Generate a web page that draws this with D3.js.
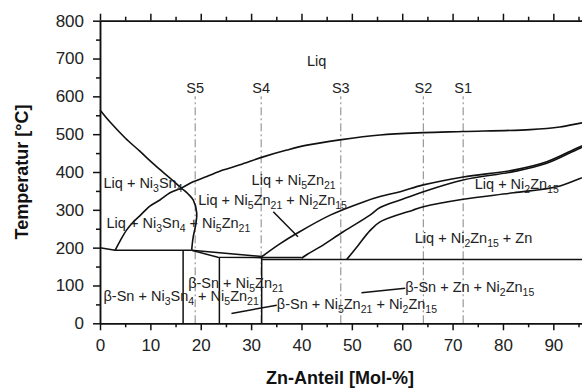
<!DOCTYPE html>
<html>
<head>
<meta charset="utf-8">
<script src="https://cdn.jsdelivr.net/npm/d3@7"></script>
<style>
body { margin: 0; background: #fff; }
svg { display: block; font-family: "Liberation Sans", Arial, sans-serif; }
</style>
</head>
<body>
<script>
// size of the picture and plot box
const width = 582, height = 391;
const plot = {left: 100, right: 603.7, top: 20.7, bottom: 323.3};

// tick values (100 lies outside the cropped picture)
const xMajor = d3.range(0, 100, 10);
const xMinor = d3.range(5, 100, 10);
const yMajor = d3.range(0, 801, 100);
const yMinor = d3.range(50, 800, 100);

// vertical sections
const sNames = ["S5", "S4", "S3", "S2", "S1"];
const sZn = [18.9, 32.0, 47.8, 64.2, 72.1];
const sTop = 600;

// phase boundaries, [Zn mol-%, T °C]
const liqSn = [[0,564],[2,532],[5,490],[7.9,455],[10.9,418],[13.9,384],[16.2,357],[17.5,342],[18.5,326],[19.2,292],[19,260],[18.5,228],[18.2,194]];
const liqMain = [[3,193],[4,218],[5.3,247],[6.6,268],[7.9,284],[9.9,310],[11.9,326],[13.9,345],[16.2,358],[18.5,374],[21.2,388],[24.4,405],[27.8,419],[32.4,440],[37.1,458],[41.1,471],[47.6,485],[55.6,498],[64.2,504],[72.1,507],[85.4,512],[91.3,519],[95.7,530],[100,538]];
const curveA = [[32.1,176],[35.7,210],[39.1,238],[45.7,286],[52.3,321],[55.6,335],[59.6,348],[64.2,366],[72.1,387],[82.1,405],[88.7,427],[95.3,467],[100,492]];
const curveB = [[40,172],[41.1,182],[43.7,202],[48.3,242],[53.6,286],[55.6,306],[59.6,326],[64.2,348],[72.1,379],[82.1,401],[88.7,423],[95.3,463],[100,487]];
const curveC = [[49,169],[51.2,205],[53.6,245],[55.6,268],[62.1,299],[64.2,308],[72.1,328],[82.1,345],[90.7,361],[95.3,383],[100,405]];

// straight boundaries
const eutSn = [[0,200],[3,193],[18.2,193]];
const wedgeUp = [[18.2,193],[32.1,176.5]];
const wedgeLow = [[18.2,193],[23.4,174.5],[32.1,173.5]];
const base174 = [[32.1,174],[40,174]];
const line169 = [[32.1,169],[100,169]];
const vert1 = [[16.5,193],[16.5,0]];
const vert2 = [[23.7,174.5],[23.7,0]];
const vert3 = [[32.1,176.5],[32.1,0]];

// leader lines
const leaders = [
    [[34.4,295],[39.3,229]],
    [[26.1,26],[35.1,48]],
    [[51.9,81],[60.6,92.5]]
];

// region labels ("_n" = subscript) and their anchors
const labelText = [
    "Liq",
    "Liq + Ni_3Sn_4",
    "Liq + Ni_3Sn_4 + Ni_5Zn_21",
    "Liq + Ni_5Zn_21",
    "Liq + Ni_5Zn_21 + Ni_2Zn_15",
    "Liq + Ni_2Zn_15",
    "Liq + Ni_2Zn_15 + Zn",
    "β-Sn + Ni_5Zn_21",
    "β-Sn + Ni_3Sn_4 + Ni_5Zn_21",
    "β-Sn + Ni_5Zn_21 + Ni_2Zn_15",
    "β-Sn + Zn + Ni_2Zn_15"
];
const labelZn = [41.1, 0.7, 1.3, 30.1, 19.5, 74.4, 62.5, 17.5, 0.7, 35.1, 60.6];
const labelT = [680, 358, 251, 366, 313, 355, 211, 93, 59, 38, 83];

const x = d3.scaleLinear().domain([0, 100]).range([plot.left, plot.right]);
const y = d3.scaleLinear().domain([0, 800]).range([plot.bottom, plot.top]);

const svg = d3.select("body").append("svg")
    .attr("width", width)
    .attr("height", height);

const line = d3.line().x(d => x(d[0])).y(d => y(d[1]));
const smooth = d3.line().x(d => x(d[0])).y(d => y(d[1])).curve(d3.curveCatmullRom.alpha(0.5));

// section lines
svg.append("g").selectAll("line")
    .data(sZn)
    .enter().append("line")
    .attr("x1", d => x(d)).attr("x2", d => x(d))
    .attr("y1", y(0)).attr("y2", y(sTop))
    .attr("stroke", "#999")
    .attr("stroke-width", 1.2)
    .attr("stroke-dasharray", "8,3,2,3");

svg.append("g").selectAll("text")
    .data(sNames)
    .enter().append("text")
    .attr("x", (d, i) => x(sZn[i]))
    .attr("y", 93)
    .attr("text-anchor", "middle")
    .attr("font-size", 14.5)
    .attr("fill", "#222")
    .text(d => d);

// boundaries
const curves = [liqSn, liqMain, curveA, curveB, curveC];
const straights = [eutSn, wedgeUp, wedgeLow, base174, line169, vert1, vert2, vert3].concat(leaders);

svg.append("g").selectAll("path")
    .data(curves)
    .enter().append("path")
    .attr("d", smooth)
    .attr("fill", "none")
    .attr("stroke", "#111")
    .attr("stroke-width", 1.6);

svg.append("g").selectAll("path")
    .data(straights)
    .enter().append("path")
    .attr("d", line)
    .attr("fill", "none")
    .attr("stroke", "#111")
    .attr("stroke-width", 1.5);

// region labels
const labels = svg.append("g")
    .attr("font-size", 14.5)
    .attr("fill", "#222");

labelText.forEach(function (s, i) {
    const t = labels.append("text")
        .attr("x", x(labelZn[i]))
        .attr("y", y(labelT[i]));
    let down = false;
    s.split(/(_\d+)/).forEach(function (p) {
        if (!p) return;
        if (p[0] === "_") {
            t.append("tspan").attr("font-size", 10.5).attr("dy", down ? 0 : 4).text(p.slice(1));
            down = true;
        } else {
            t.append("tspan").attr("dy", down ? -4 : 0).text(p);
            down = false;
        }
    });
});

// axes
function styleAxis(g) {
    g.selectAll("path, line").attr("stroke", "#111").attr("stroke-width", 1.5);
    g.selectAll("text").attr("fill", "#222").attr("font-size", 17).attr("font-family", null);
}

svg.append("g")
    .attr("transform", "translate(0," + plot.bottom + ")")
    .call(d3.axisBottom(x).tickValues(xMajor).tickSize(7).tickSizeOuter(0).tickPadding(9).tickFormat(d3.format("d")))
    .call(styleAxis);
svg.append("g")
    .attr("transform", "translate(0," + plot.bottom + ")")
    .call(d3.axisBottom(x).tickValues(xMinor).tickSize(4).tickSizeOuter(0).tickFormat(""))
    .call(styleAxis);

svg.append("g")
    .attr("transform", "translate(0," + plot.top + ")")
    .call(d3.axisTop(x).tickValues(xMajor).tickSize(7).tickSizeOuter(0).tickFormat(""))
    .call(styleAxis);
svg.append("g")
    .attr("transform", "translate(0," + plot.top + ")")
    .call(d3.axisTop(x).tickValues(xMinor).tickSize(4).tickSizeOuter(0).tickFormat(""))
    .call(styleAxis);

svg.append("g")
    .attr("transform", "translate(" + plot.left + ",0)")
    .call(d3.axisLeft(y).tickValues(yMajor).tickSize(7).tickSizeOuter(0).tickPadding(9))
    .call(styleAxis);
svg.append("g")
    .attr("transform", "translate(" + plot.left + ",0)")
    .call(d3.axisLeft(y).tickValues(yMinor).tickSize(4).tickSizeOuter(0).tickFormat(""))
    .call(styleAxis);

// axis titles
svg.append("text")
    .attr("x", 340)
    .attr("y", 384)
    .attr("text-anchor", "middle")
    .attr("font-size", 18)
    .attr("font-weight", "bold")
    .attr("fill", "#111")
    .text("Zn-Anteil [Mol-%]");

svg.append("text")
    .attr("transform", "translate(28," + ((plot.top + plot.bottom) / 2) + ") rotate(-90)")
    .attr("text-anchor", "middle")
    .attr("font-size", 18)
    .attr("font-weight", "bold")
    .attr("fill", "#111")
    .text("Temperatur [°C]");
</script>
</body>
</html>
